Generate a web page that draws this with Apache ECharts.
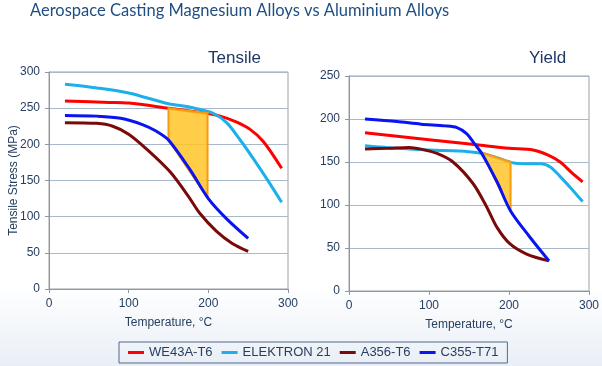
<!DOCTYPE html>
<html><head><meta charset="utf-8">
<script src="https://cdn.jsdelivr.net/npm/echarts@6/dist/echarts.min.js"></script>
<style>html,body{margin:0;padding:0;background:#fff}#c{width:602px;height:366px}</style>
</head><body><div id="c"></div>
<script>
// ---- Tensile data (Temperature °C, Stress MPa) ----
const tenWE43T = [20, 76, 100, 150, 198, 215, 235, 252, 269, 292];
const tenWE43V = [260, 258, 257, 250, 243, 239, 231, 221, 204, 167];
const tenEL21T = [20, 60, 100, 150, 175, 190, 206, 223, 240, 256, 273, 292];
const tenEL21V = [283, 278, 271, 256, 252, 248, 243, 230, 206, 181, 153, 120];
const tenA356T = [20, 60, 80, 100, 125, 152, 175, 189, 210, 230, 250];
const tenA356V = [230, 229, 225, 214, 191, 162, 128, 105, 80, 63, 52];
const tenC355T = [20, 60, 90, 118, 135, 150, 177, 200, 223, 250];
const tenC355V = [240, 239, 236, 227, 218, 206, 165, 125, 97, 70];
const tenFillT = [150, 199, 199, 150];
const tenFillV = [250, 243, 126, 206];
// ---- Yield data ----
const yldWE43T = [20, 60, 100, 160, 200, 230, 249, 264, 278, 292];
const yldWE43V = [184, 180, 176, 170, 166, 164, 158, 150, 138, 127];
const yldEL21T = [20, 60, 100, 150, 166, 185, 205, 225, 240, 252, 264, 278, 292];
const yldEL21V = [169, 166, 164, 162, 160, 155, 149, 148, 148, 144, 133, 119, 104];
const yldA356T = [20, 50, 75, 90, 110, 130, 155, 172, 185, 201, 222, 250];
const yldA356V = [165, 166, 167, 165, 160, 150, 125, 98, 74, 55, 43, 35];
const yldC355T = [20, 60, 90, 120, 135, 147, 157, 166, 185, 202, 225, 250];
const yldC355V = [200, 197, 194, 192, 190, 183, 171, 160, 127, 93, 64, 35];
const yldFillT = [166, 202, 202];
const yldFillV = [161, 150, 93];
// ---- labels ----
const seriesNames = ['WE43A-T6', 'ELEKTRON 21', 'A356-T6', 'C355-T71'];
const seriesColors = ['#FF0000', '#1CB0EA', '#7A0A0A', '#0A14F0'];
const tenTicks = [0, 50, 100, 150, 200, 250, 300];
const yldTicks = [0, 50, 100, 150, 200, 250];
const xTicks = [0, 100, 200, 300];

const zip = (t, v) => t.map((x, i) => [x, v[i]]);
const txt = '#263E60';

function lineSeries(name, idx, t, v, ai, z) {
  return {
    name: name, type: 'line', xAxisIndex: ai, yAxisIndex: ai,
    data: zip(t, v), smooth: 0.3,
    showSymbol: false, symbol: 'none', z: z || 3,
    lineStyle: { color: seriesColors[idx], width: 3 },
    itemStyle: { color: seriesColors[idx] },
    emphasis: { disabled: true }
  };
}
function fillSeries(t, v, ai) {
  return {
    type: 'custom', xAxisIndex: ai, yAxisIndex: ai, z: 4,
    data: [0], silent: true,
    renderItem: function (params, api) {
      const pts = t.map((x, i) => api.coord([x, v[i]]));
      return {
        type: 'polygon', shape: { points: pts },
        style: { fill: 'rgba(255,196,40,0.85)', stroke: '#F89A10', lineWidth: 2 }
      };
    }
  };
}
function xAx(gi) {
  return {
    type: 'value', gridIndex: gi, min: 0, max: 300, interval: 100,
    name: 'Temperature, °C', nameLocation: 'middle', nameGap: 28, nameMoveOverlap: false,
    nameTextStyle: { color: txt, fontSize: 12, fontFamily: 'Liberation Sans' },
    axisLine: { show: true, lineStyle: { color: '#8E96A0', width: 1 } },
    axisTick: { show: true, length: 4, lineStyle: { color: '#8E96A0' } },
    axisLabel: { color: txt, fontSize: 12, margin: 9, fontFamily: 'Liberation Sans' },
    splitLine: { show: false }
  };
}
function yAx(gi, max, interval, name) {
  return {
    type: 'value', gridIndex: gi, min: 0, max: max, interval: interval,
    name: name, nameLocation: 'middle', nameGap: 29, nameMoveOverlap: false,
    nameTextStyle: { color: txt, fontSize: 12, fontFamily: 'Liberation Sans' },
    axisLine: { show: true, lineStyle: { color: '#8E96A0', width: 1 } },
    axisTick: { show: true, length: 4, lineStyle: { color: '#8E96A0' } },
    axisLabel: { color: txt, fontSize: 12, margin: 9, fontFamily: 'Liberation Sans' },
    splitLine: { show: true, lineStyle: { color: '#A9B9CC', width: 1 } }
  };
}

const chart = echarts.init(document.getElementById('c'), null, { renderer: 'canvas' });
chart.setOption({
  animation: false,
  backgroundColor: {
    type: 'linear', x: 0, y: 0, x2: 0, y2: 1,
    colorStops: [{ offset: 0, color: '#FFFFFF' }, { offset: 0.78, color: '#FFFFFF' }, { offset: 1, color: '#E9EFF6' }]
  },
  title: [
    { text: 'Aerospace Casting Magnesium Alloys vs Aluminium Alloys', left: 30, top: 2, padding: 0,
      textStyle: { color: '#1F4E82', fontSize: 16.5, fontWeight: 'normal', fontFamily: 'Lato' } },
    { text: 'Tensile', left: 208, top: 50, padding: 0,
      textStyle: { color: '#1F3864', fontSize: 17, fontWeight: 'normal', fontFamily: 'Liberation Sans' } },
    { text: 'Yield', left: 529, top: 50, padding: 0,
      textStyle: { color: '#1F3864', fontSize: 17, fontWeight: 'normal', fontFamily: 'Liberation Sans' } }
  ],
  legend: {
    data: seriesNames, left: 119, top: 342, padding: [4, 9, 4, 9],
    borderColor: '#50698E', borderWidth: 1, itemGap: 9,
    icon: 'rect', itemWidth: 16, itemHeight: 3,
    textStyle: { color: txt, fontSize: 13, fontFamily: 'Liberation Sans' }
  },
  grid: [
    { left: 49, top: 72, width: 239, height: 217, show: true, borderColor: '#9AA2AC', borderWidth: 1, backgroundColor: 'transparent' },
    { left: 349, top: 76, width: 240, height: 215, show: true, borderColor: '#9AA2AC', borderWidth: 1, backgroundColor: 'transparent' }
  ],
  xAxis: [xAx(0), xAx(1)],
  yAxis: [yAx(0, 300, 50, 'Tensile Stress (MPa)'), yAx(1, 250, 50, '')],
  series: [
    lineSeries(seriesNames[0], 0, tenWE43T, tenWE43V, 0),
    lineSeries(seriesNames[1], 1, tenEL21T, tenEL21V, 0),
    lineSeries(seriesNames[2], 2, tenA356T, tenA356V, 0),
    fillSeries(tenFillT, tenFillV, 0),
    lineSeries(seriesNames[3], 3, tenC355T, tenC355V, 0, 5),
    lineSeries(seriesNames[0], 0, yldWE43T, yldWE43V, 1),
    lineSeries(seriesNames[1], 1, yldEL21T, yldEL21V, 1),
    lineSeries(seriesNames[2], 2, yldA356T, yldA356V, 1),
    fillSeries(yldFillT, yldFillV, 1),
    lineSeries(seriesNames[3], 3, yldC355T, yldC355V, 1, 5)
  ]
});
</script></body></html>
